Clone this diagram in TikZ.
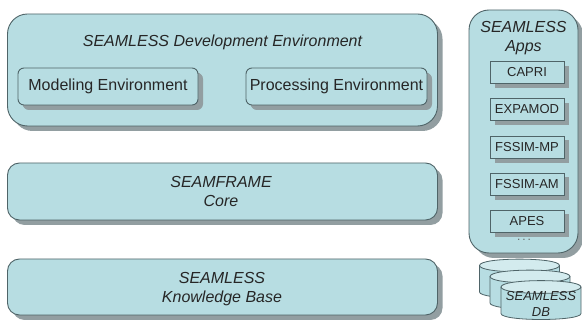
\documentclass[tikz,border=0pt]{standalone}
\usepackage{fontspec}
\setmainfont{Liberation Sans}
\usetikzlibrary{shadows}
\definecolor{boxfill}{HTML}{B7DDE2}
\definecolor{boxline}{HTML}{4F6468}
\definecolor{shadowgray}{HTML}{929EA1}
\definecolor{dbtop}{HTML}{D3EBEE}
\newcommand{\drawdb}[2]{% left x, top y
  \fill[boxfill] (#1,#2+6.5) .. controls (#1,#2-2) and (#1+80,#2-2) .. (#1+80,#2+6.5) -- (#1+80,#2+33) .. controls (#1+80,#2+41) and (#1,#2+41) .. (#1,#2+33) -- cycle;
  \fill[dbtop] (#1,#2+6.5) .. controls (#1,#2-2) and (#1+80,#2-2) .. (#1+80,#2+6.5) .. controls (#1+80,#2+15) and (#1,#2+15) .. (#1,#2+6.5) -- cycle;
  \draw[dbline] (#1,#2+6.5) .. controls (#1,#2-2) and (#1+80,#2-2) .. (#1+80,#2+6.5) .. controls (#1+80,#2+15) and (#1,#2+15) .. (#1,#2+6.5) -- cycle;
  \draw[dbline] (#1,#2+6.5) -- (#1,#2+33) .. controls (#1,#2+41) and (#1+80,#2+41) .. (#1+80,#2+33) -- (#1+80,#2+6.5);
}
\tikzset{
  x=1pt,y=-1pt,
  dbline/.style={draw=boxline,line width=0.8pt},
  panel/.style={draw=boxline,line width=0.9pt,fill=boxfill,text=black!85,inner sep=0pt,align=center,
     general shadow={shadow xshift=5pt,shadow yshift=-5pt,fill=shadowgray,opacity=1}},
  big/.style={panel,rounded corners=#1,font=\fontsize{16}{19}\selectfont\itshape},
  biglabel/.style={font=\fontsize{16}{19}\selectfont\itshape,align=center,text=black!85},
  inner/.style={panel,rounded corners=6pt,minimum width=180pt,minimum height=37pt,font=\fontsize{16}{19}\selectfont,
     general shadow={shadow xshift=4.5pt,shadow yshift=-4.5pt,fill=shadowgray,opacity=1}},
  app/.style={panel,minimum width=74pt,minimum height=21.5pt,font=\fontsize{13}{15}\selectfont,
     general shadow={shadow xshift=4.5pt,shadow yshift=-4.5pt,fill=shadowgray,opacity=1}},
}
\begin{document}
\begin{tikzpicture}
\useasboundingbox (0,0) rectangle (582,320);
\node[big=20pt,minimum width=430pt,minimum height=112pt] (dev) at (222.5,70) {};
\node[biglabel] (devlabel) at (222.5,42) {SEAMLESS Development Environment};
\node[inner] (model) at (108,86.5) {Modeling Environment};
\node[inner,minimum width=181pt] (proc) at (336.5,86.5) {Processing Environment};
\node[big=12pt,minimum width=430pt,minimum height=57pt] (core) at (222.5,191.5) {};
\node[biglabel] (corelabel) at (221,191.5) {SEAMFRAME\\Core};
\node[big=12pt,minimum width=430pt,minimum height=56pt] (kb) at (222.5,287) {};
\node[biglabel] (kblabel) at (222,289.5) {SEAMLESS\\Knowledge Base};
\node[big=20pt,minimum width=109pt,minimum height=243pt] (apps) at (523.5,131.5) {};
\node[biglabel] (appslabel) at (523.5,38) {SEAMLESS\\Apps};
\node[app] (capri) at (527,72.5) {CAPRI};
\node[app] (expamod) at (527,109.5) {EXPAMOD};
\node[app,minimum height=22pt] (mp) at (527,147) {FSSIM-MP};
\node[app,minimum height=22pt] (am) at (527,184) {FSSIM-AM};
\node[app,minimum height=22pt] (apes) at (527,221) {APES};
\node[font=\fontsize{12}{14}\selectfont,text=black!60] (dots) at (524,240) {.\,.\,.};
\drawdb{479.5}{259}
\drawdb{490}{270}
\drawdb{501}{280.5}
\node[font=\fontsize{13}{16}\selectfont\itshape,align=center,text=black!85] (dblabel) at (541,304) {SEAMLESS\\DB};
\end{tikzpicture}
\end{document}
